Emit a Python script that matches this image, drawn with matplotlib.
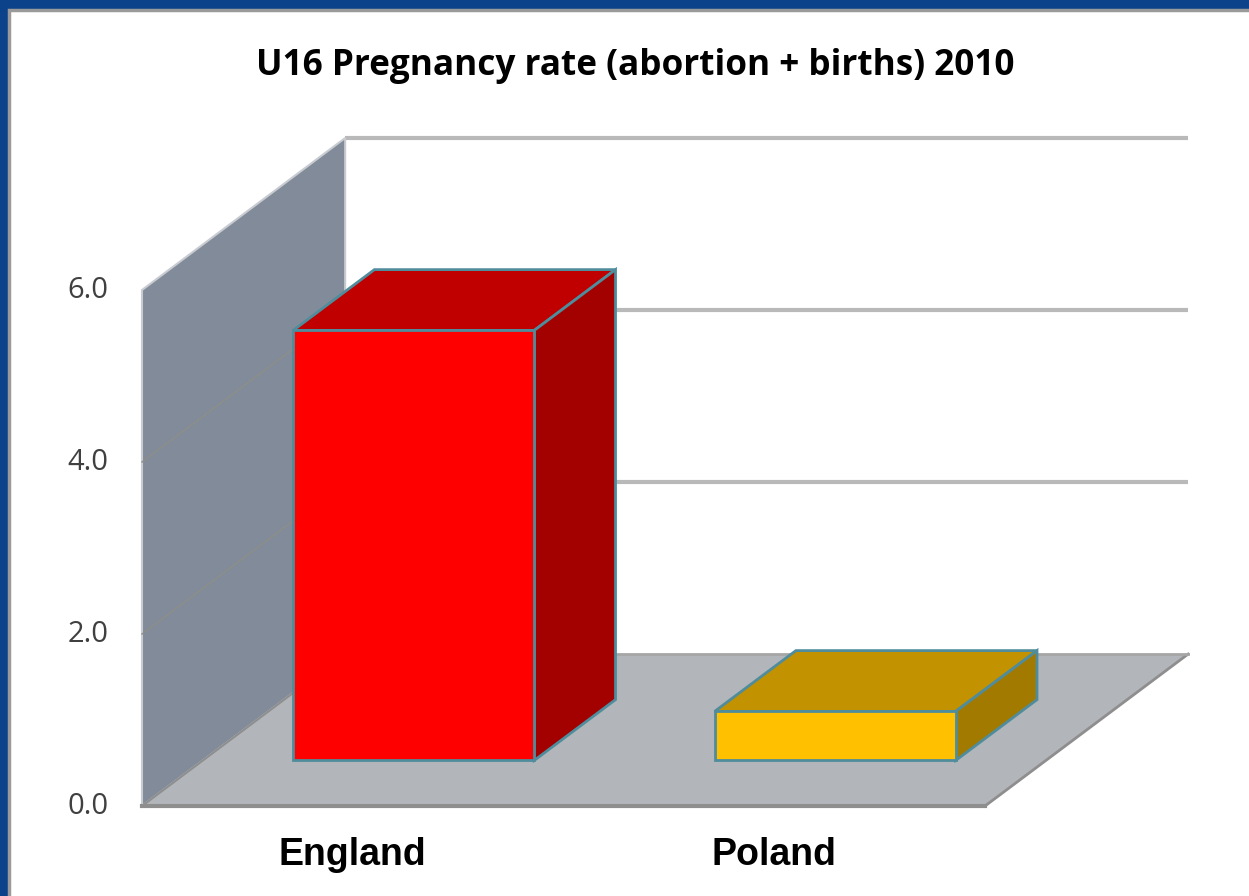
import numpy as np
import matplotlib.pyplot as plt
from matplotlib.patches import Polygon, Rectangle

# data
categories = ["England", "Poland"]
values = [5.0, 0.57]
yticks = [0.0, 2.0, 4.0, 6.0]
title = "U16 Pregnancy rate (abortion + births) 2010"

front_cols = ["#ff0000", "#ffc000"]
top_cols = ["#c00000", "#c39200"]
side_cols = ["#a30000", "#a37a00"]
edge_col = "#4f8c9c"

# oblique 3d look: depth 0 = front plane, depth 1 = back wall
DX = 0.482   # category units per unit depth
DY = 1.767   # value units per unit depth
ymax = 6.0
ncat = len(categories)
bar_w = 0.572
bar_d0, bar_d1 = 0.30, 0.70


def P(x, y, d):
    return (x + d * DX, y + d * DY)


fig = plt.figure(figsize=(12.49, 8.96), dpi=100)
fig.patch.set_facecolor("#0b4289")
ax = fig.add_axes([0, 0, 1, 1])
ax.set_xlim(-142 / 421.5, (1249 - 142) / 421.5)
ax.set_ylim(-(896 - 806) / 86, 806 / 86)
ax.axis("off")

# white panel with grey border (top/left)
ax.add_patch(Rectangle((0.0, 0.0), 1, 1, transform=fig.transFigure,
                       facecolor="#0b4289", edgecolor="none", zorder=0))
ax.add_patch(Rectangle((0.0075, -0.1), 1.1, 0.1 + 1 - 0.0115, transform=fig.transFigure,
                       facecolor="white", edgecolor="#9a9a9a", linewidth=2.5, zorder=0.5))

# back wall gridlines
for t in yticks[1:]:
    x0, y0 = P(0, t, 1)
    x1, y1 = P(ncat, t, 1)
    ax.plot([x0, x1], [y0, y1], color="#b9b9b9", lw=3, zorder=1, solid_capstyle="butt")

# side wall
side = [P(0, 0, 0), P(0, ymax, 0), P(0, ymax, 1), P(0, 0, 1)]
ax.add_patch(Polygon(side, closed=True, facecolor="#818b99", edgecolor="#c8cbd0",
                     linewidth=1.5, zorder=2))
for t in yticks[1:-1]:
    a, b = P(0, t, 0), P(0, t, 1)
    ax.plot([a[0], b[0]], [a[1], b[1]], color="#8e8e8a", lw=1, zorder=2.1)

# floor
floor = [P(0, 0, 0), P(ncat, 0, 0), P(ncat, 0, 1), P(0, 0, 1)]
ax.add_patch(Polygon(floor, closed=True, facecolor="#b2b6ba", edgecolor="none", zorder=2))
a, b = P(0, 0, 0), P(ncat, 0, 0)
ax.plot([a[0], b[0]], [a[1], b[1]], color="#8e8e8e", lw=3, zorder=2.2)
a, b = P(ncat, 0, 0), P(ncat, 0, 1)
ax.plot([a[0], b[0]], [a[1], b[1]], color="#8e8e8e", lw=2, zorder=2.2)
a, b = P(0, 0, 1), P(ncat, 0, 1)
ax.plot([a[0], b[0]], [a[1], b[1]], color="#a6a6a6", lw=2, zorder=2.2)
a, b = P(0, 0, 0), P(0, 0, 1)
ax.plot([a[0], b[0]], [a[1], b[1]], color="#8e8e8e", lw=1.5, zorder=2.2)

# bars
for i, v in enumerate(values):
    xl = i + 0.5 - bar_w / 2
    xr = i + 0.5 + bar_w / 2
    front = [P(xl, 0, bar_d0), P(xr, 0, bar_d0), P(xr, v, bar_d0), P(xl, v, bar_d0)]
    top = [P(xl, v, bar_d0), P(xr, v, bar_d0), P(xr, v, bar_d1), P(xl, v, bar_d1)]
    rside = [P(xr, 0, bar_d0), P(xr, 0, bar_d1), P(xr, v, bar_d1), P(xr, v, bar_d0)]
    for poly, c in [(top, top_cols[i]), (rside, side_cols[i]), (front, front_cols[i])]:
        ax.add_patch(Polygon(poly, closed=True, facecolor=c, edgecolor=edge_col,
                             linewidth=2, joinstyle="miter", zorder=3))

# tick labels
for t in yticks:
    ax.text(-0.08, t, f"{t:.1f}", ha="right", va="center", fontsize=21,
            color="#404040", family="Open Sans", zorder=4)

# category labels
for i, c in enumerate(categories):
    ax.text(i + 0.5, -0.57, c, ha="center", va="center", fontsize=27,
            fontweight="bold", family="Liberation Sans", color="black", zorder=4)

fig.text(635 / 1249, 1 - 66 / 896, title, ha="center", va="center", fontsize=25.3,
         fontweight="bold", family="Open Sans", color="black")

fig.savefig("out.png", dpi=100, facecolor=fig.get_facecolor())
